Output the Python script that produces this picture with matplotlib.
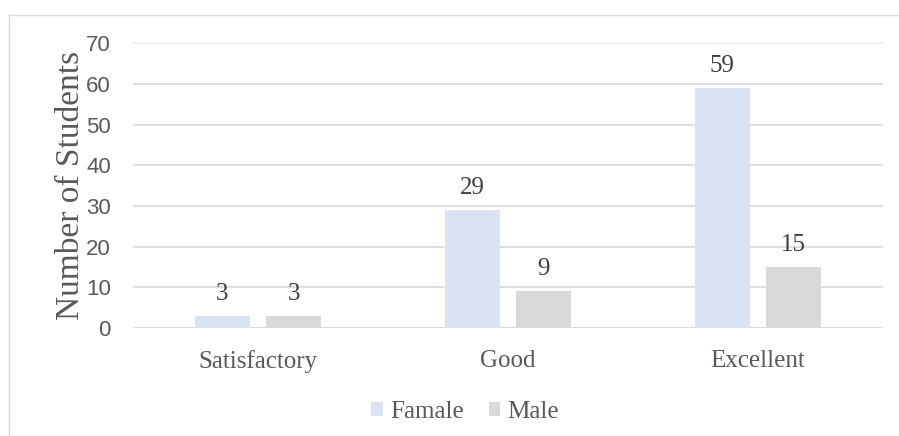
import matplotlib.pyplot as plt
from matplotlib.lines import Line2D
import numpy as np

categories = ["Satisfactory", "Good", "Excellent"]
female = [3, 29, 59]
male = [3, 9, 15]
series_names = ["Famale", "Male"]
yticks = [0, 10, 20, 30, 40, 50, 60, 70]

female_color = "#DAE3F3"
male_color = "#D9D9D9"
text_grey = "#595959"
serif = "Liberation Serif"
sans = "Liberation Sans"

fig = plt.figure(figsize=(8.99, 4.36), dpi=100)
ax = fig.add_axes([0.148, 0.248, 0.834, 0.653])

x = np.arange(len(categories))
w = 0.22
off = 0.143
b1 = ax.bar(x - off, female, w, color=female_color, label=series_names[0], zorder=3)
b2 = ax.bar(x + off, male, w, color=male_color, label=series_names[1], zorder=3)

for bars in (b1, b2):
    for rect in bars:
        h = rect.get_height()
        ax.annotate(f"{h:g}", (rect.get_x() + rect.get_width() / 2, h),
                    xytext=(0, 8), textcoords="offset points", ha="center", va="bottom",
                    fontsize=18, fontfamily=serif, color="#404040")

ax.set_xlim(-0.5, 2.5)
ax.set_ylim(0, 70)
ax.set_yticks(yticks)
ax.set_xticks(x)
ax.set_xticklabels(categories, fontfamily=serif, fontsize=18, color=text_grey)
ax.set_yticklabels([str(t) for t in yticks], fontfamily=sans, fontsize=16, color=text_grey)
ax.tick_params(axis="both", length=0)
ax.tick_params(axis="x", pad=16)
ax.tick_params(axis="y", pad=16)
ax.grid(axis="y", color="#D9D9D9", linewidth=1.2, zorder=0)
for s in ax.spines.values():
    s.set_visible(False)
ax.axhline(0, color="#D9D9D9", linewidth=1.2, zorder=1)

ax.set_ylabel("Number of Students", fontfamily=serif, fontsize=24, color=text_grey, labelpad=0)

ax.legend(loc="center", bbox_to_anchor=(0.443, -0.295), ncol=2, frameon=False,
          prop={"family": serif, "size": 18}, labelcolor=text_grey,
          handlelength=0.45, handleheight=0.45, handletextpad=0.3, columnspacing=1.0)

# chart frame (left and top edges visible)
fig.add_artist(Line2D([9 / 899, 9 / 899], [0, 1 - 15 / 436], transform=fig.transFigure,
                      color="#D9D9D9", linewidth=1))
fig.add_artist(Line2D([9 / 899, 1], [1 - 15 / 436, 1 - 15 / 436], transform=fig.transFigure,
                      color="#D9D9D9", linewidth=1))

fig.savefig("out.png", dpi=100)
